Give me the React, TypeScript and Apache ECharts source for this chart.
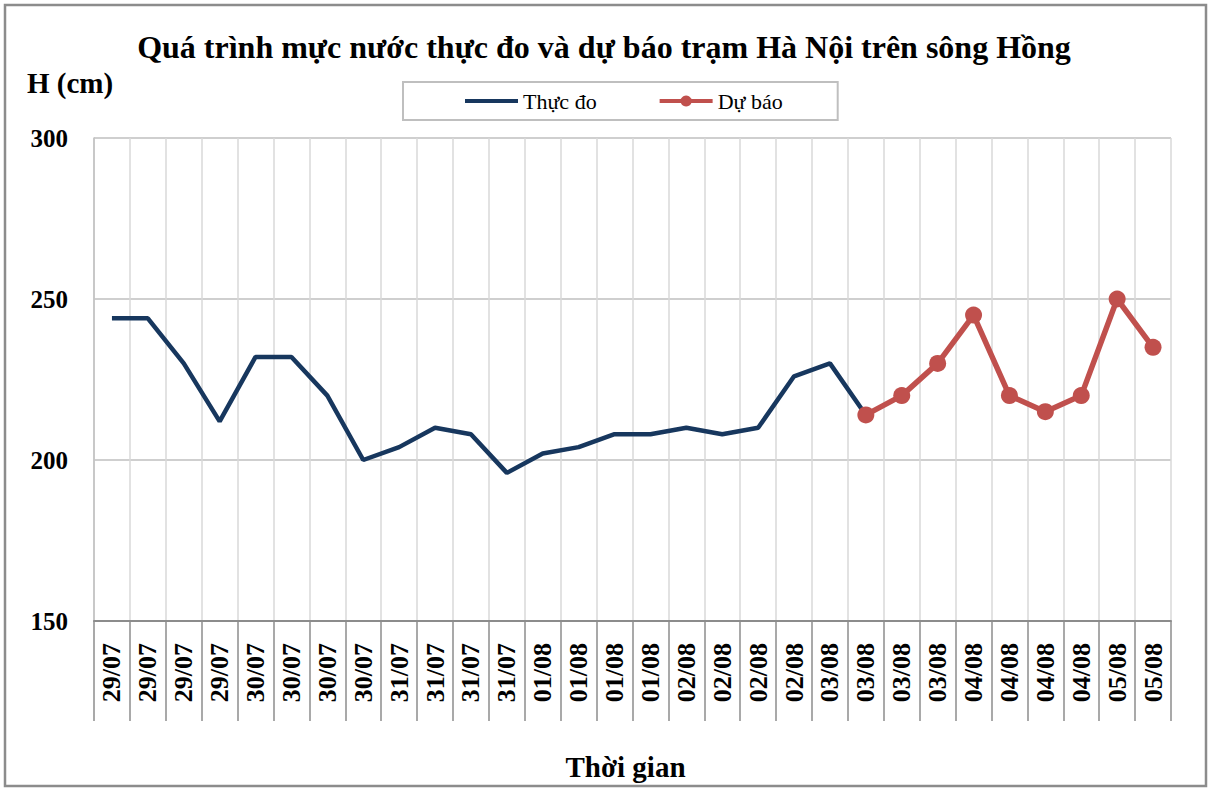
import React, { useEffect, useRef } from "react";
import * as echarts from "echarts";

const categories = [
  "29/07", "29/07", "29/07", "29/07",
  "30/07", "30/07", "30/07", "30/07",
  "31/07", "31/07", "31/07", "31/07",
  "01/08", "01/08", "01/08", "01/08",
  "02/08", "02/08", "02/08", "02/08",
  "03/08", "03/08", "03/08", "03/08",
  "04/08", "04/08", "04/08", "04/08",
  "05/08", "05/08",
];

const measured: (number | string)[] = [
  244, 244, 230, 212, 232, 232, 220, 200, 204, 210, 208, 196, 202, 204, 208,
  208, 210, 208, 210, 226, 230, 214, "-", "-", "-", "-", "-", "-", "-", "-",
];

const forecast: (number | string)[] = [
  "-", "-", "-", "-", "-", "-", "-", "-", "-", "-", "-", "-", "-", "-", "-",
  "-", "-", "-", "-", "-", "-", 214, 220, 230, 245, 220, 215, 220, 250, 235,
];

const yTicks = { min: 150, max: 300, interval: 50 };

const FONT = "'Liberation Serif', 'Times New Roman', serif";

export default function App() {
  const ref = useRef<HTMLDivElement>(null);

  useEffect(() => {
    if (!ref.current) return;
    const chart = echarts.init(ref.current, null, { renderer: "svg" });
    chart.setOption({
      animation: false,
      backgroundColor: "#ffffff",
      title: {
        text: "Quá trình mực nước thực đo và dự báo trạm Hà Nội trên sông Hồng",
        left: "center",
        top: 26,
        textStyle: {
          fontFamily: FONT,
          fontSize: 32,
          fontWeight: "bold",
          color: "#000",
        },
      },
      legend: {
        left: 403,
        top: 82,
        padding: [8, 55, 8, 60],
        borderColor: "#bfbfbf",
        borderWidth: 2,
        itemWidth: 53,
        itemHeight: 14,
        itemGap: 61,
        textStyle: { fontFamily: FONT, fontSize: 22, color: "#000" },
        data: [
          {
            name: "Thực đo",
            itemStyle: { opacity: 0 },
            lineStyle: { width: 4, color: "#17375e" },
          },
          {
            name: "Dự báo",
            lineStyle: { width: 4, color: "#c0504d" },
          },
        ],
      },
      grid: { left: 94, right: 37, top: 138, bottom: 167, containLabel: false },
      xAxis: {
        type: "category",
        data: categories,
        boundaryGap: true,
        name: "Thời gian",
        nameLocation: "middle",
        nameGap: 131,
        nameTextStyle: {
          fontFamily: FONT,
          fontSize: 29,
          fontWeight: "bold",
          color: "#000",
          padding: [0, 14, 0, 0],
        },
        axisLine: { show: true, lineStyle: { color: "#8c8c8c", width: 2 } },
        axisTick: {
          show: true,
          interval: 0,
          length: 100,
          lineStyle: { color: "#8c8c8c", width: 1.5 },
        },
        axisLabel: {
          interval: 0,
          rotate: 90,
          margin: 22,
          fontFamily: FONT,
          fontSize: 26,
          fontWeight: "bold",
          color: "#000",
        },
        splitLine: {
          show: true,
          interval: 0,
          lineStyle: { color: "#d9d9d9", width: 1.5 },
        },
      },
      yAxis: {
        type: "value",
        min: yTicks.min,
        max: yTicks.max,
        interval: yTicks.interval,
        axisLine: { show: true, lineStyle: { color: "#bfbfbf", width: 1.5 } },
        axisTick: { show: false },
        axisLabel: {
          margin: 26,
          fontFamily: FONT,
          fontSize: 25,
          fontWeight: "bold",
          color: "#000",
        },
        splitLine: { show: true, lineStyle: { color: "#bfbfbf", width: 1.5 } },
      },
      series: [
        {
          name: "Thực đo",
          type: "line",
          data: measured,
          symbol: "none",
          lineStyle: { color: "#17375e", width: 4.5 },
          itemStyle: { color: "#17375e" },
          z: 2,
        },
        {
          name: "Dự báo",
          type: "line",
          data: forecast,
          symbol: "circle",
          symbolSize: 17,
          lineStyle: { color: "#c0504d", width: 5.5 },
          itemStyle: { color: "#c0504d" },
          z: 3,
        },
      ],
      graphic: [
        {
          type: "rect",
          shape: { x: 5, y: 5, width: 1201, height: 781 },
          style: { fill: "none", stroke: "#8c8c8c", lineWidth: 2.5 },
          silent: true,
          z: -1,
        },
        {
          type: "text",
          left: 27,
          top: 68,
          style: {
            text: "H (cm)",
            fontFamily: FONT,
            fontSize: 29,
            fontWeight: "bold",
            fill: "#000",
          },
        },
      ],
    });
    return () => chart.dispose();
  }, []);

  return (
    <div
      ref={ref}
      style={{ position: "fixed", left: 0, top: 0, width: 1208, height: 788 }}
    />
  );
}
